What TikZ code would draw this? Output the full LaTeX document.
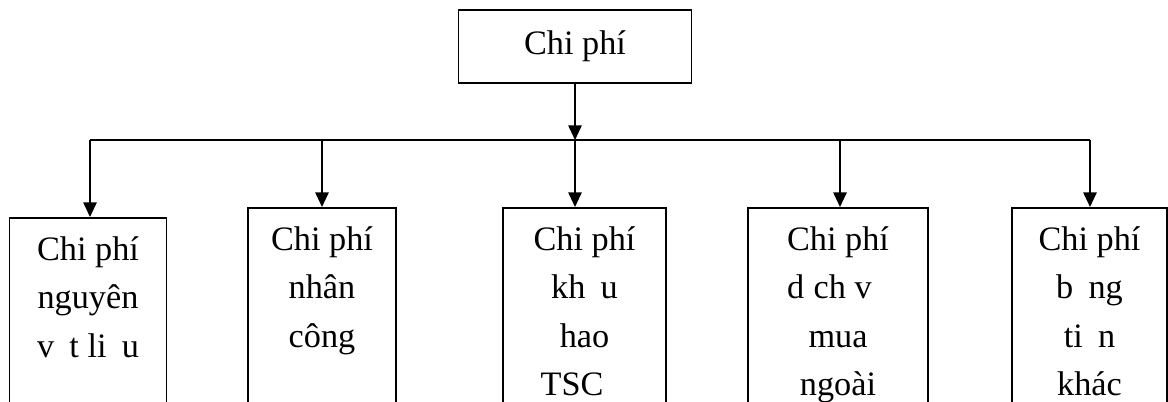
\documentclass[tikz,border=0pt]{standalone}
\usepackage{fontspec}
\setmainfont{Liberation Serif}
\usetikzlibrary{arrows.meta}
\begin{document}
\begin{tikzpicture}[x=0.75pt,y=-0.75pt,
  box/.style={draw, line width=1.4pt, inner sep=0pt},
  lbl/.style={anchor=north, inner sep=0pt, align=center,
    font=\fontsize{25.7pt}{36.4pt}\selectfont},
  link/.style={line width=1.4pt},
  arr/.style={line width=1.4pt, -{Triangle[width=10pt,length=11pt]}}]
\clip (0,0) rectangle (1168,401);
% top box
\node[box, minimum width=233*0.75pt, minimum height=73*0.75pt,
  font=\fontsize{25.7pt}{36.4pt}\selectfont] (top) at (575,46.5) {Chi phí};
% bottom boxes (they run past the lower edge)
\node[box, anchor=north, minimum width=157*0.75pt, minimum height=260*0.75pt] (b1) at (88,217) {};
\node[box, anchor=north, minimum width=148*0.75pt, minimum height=260*0.75pt] (b2) at (322,207) {};
\node[box, anchor=north, minimum width=163*0.75pt, minimum height=260*0.75pt] (b3) at (584.5,207) {};
\node[box, anchor=north, minimum width=180*0.75pt, minimum height=260*0.75pt] (b4) at (838,207) {};
\node[box, anchor=north, minimum width=155*0.75pt, minimum height=260*0.75pt] (b5) at (1089.5,207) {};
% box texts
\node[lbl] (t1) at ([yshift=-19*0.75pt]b1.north) {Chi phí\\nguyên\\v\phantom{a}t li\phantom{e}u};
\node[lbl] (t2) at ([yshift=-19*0.75pt]b2.north) {Chi phí\\nhân\\công};
\node[lbl] (t3) at ([yshift=-19*0.75pt]b3.north) {Chi phí\\kh\phantom{a}u\\hao\\TSC\phantom{Đ}};
\node[lbl] (t4) at ([yshift=-19*0.75pt]b4.north) {Chi phí\\d\phantom{i}ch v\phantom{u}\\mua\\ngoài};
\node[lbl] (t5) at ([yshift=-19*0.75pt]b5.north) {Chi phí\\b\phantom{a}ng\\ti\phantom{e}n\\khác};
% connectors
\coordinate (bus) at (575,140);
\draw[arr] (top.south) -- (top.south |- bus);
\draw[link] ([xshift=2*0.75pt]b1.north |- bus) -- ([xshift=0.5*0.75pt]b5.north |- bus);
\draw[arr] ([xshift=2*0.75pt]b1.north |- bus) -- ([xshift=2*0.75pt]b1.north);
\draw[arr] (b2.north |- bus) -- (b2.north);
\draw[arr] (top.south |- bus) -- (b3.north -| top.south);
\draw[arr] ([xshift=2*0.75pt]b4.north |- bus) -- ([xshift=2*0.75pt]b4.north);
\draw[arr] ([xshift=0.5*0.75pt]b5.north |- bus) -- ([xshift=0.5*0.75pt]b5.north);
\end{tikzpicture}
\end{document}
